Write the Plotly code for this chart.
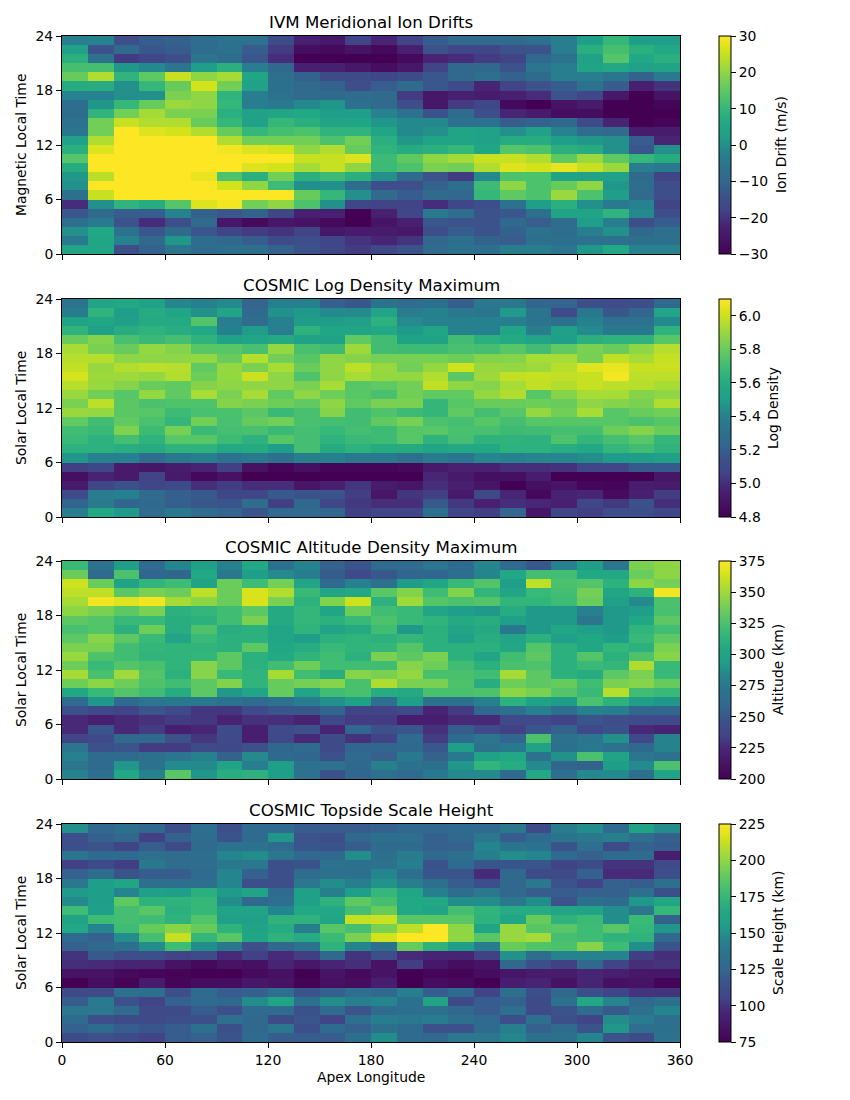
import plotly.graph_objects as go

LONGITUDE_EDGES = list(range(0, 375, 15))
HOUR_EDGES = list(range(0, 25))
LONGITUDE_TICKS = [0, 60, 120, 180, 240, 300, 360]
HOUR_TICKS = [0, 6, 12, 18, 24]

# Every grid below lists its rows from the 23-24 h bin down to the 0-1 h bin,
# with 24 longitude bins per row.
ion_drift = [
    [-3,-2,-15,-12,-11,-8,-6,-6,-16,-23,-25,-18,-22,-18,-12,-9,-9,-9,-7,-3,2,10,2,2],
    [3,-14,-9,-13,-12,-8,-6,-12,-19,-27,-28,-26,-28,-23,-14,-17,-17,-14,-14,-3,8,12,8,6],
    [8,-6,-19,-17,-15,-5,-8,-13,-21,-30,-30,-30,-30,-28,-22,-21,-19,-18,-10,-6,3,14,6,8],
    [12,12,1,-1,-5,2,8,-3,-10,-23,-23,-25,-27,-25,-18,-10,-10,-14,-5,-3,4,6,3,4],
    [16,23,9,15,25,20,22,5,-7,-11,-16,-16,-17,-16,-13,-10,-7,-11,-9,-3,-3,-5,-11,-4],
    [7,7,0,10,16,26,17,3,-7,-9,-11,-15,-12,-9,-13,-16,-22,-18,-14,-12,-6,-12,-23,-20],
    [-2,-2,0,0,18,20,9,-3,-6,-9,-9,-8,-9,-19,-25,-23,-24,-23,-21,-14,-17,-25,-30,-26],
    [-8,1,10,16,21,20,10,-3,-4,-1,1,-7,-9,-15,-25,-19,-17,-28,-30,-26,-24,-30,-30,-29],
    [-8,9,17,22,18,18,8,3,5,6,2,2,-2,-6,-14,-8,-15,-22,-24,-27,-27,-30,-30,-30],
    [-6,17,25,23,23,16,10,3,10,8,4,5,1,-1,-1,-6,-6,-12,-11,-10,-16,-22,-30,-29],
    [-5,17,30,27,26,23,16,10,12,13,9,9,5,-1,0,4,3,0,3,-2,-8,-9,-24,-24],
    [3,23,30,30,30,30,23,17,17,17,13,17,8,1,4,4,3,7,7,2,1,0,-12,-22],
    [8,27,30,30,30,30,29,27,26,20,23,16,9,7,8,10,5,14,13,8,7,0,-13,0],
    [14,30,30,30,30,30,30,30,30,25,25,27,11,15,20,22,25,25,23,15,21,15,10,7],
    [7,30,30,30,30,30,30,27,26,22,25,20,11,13,18,17,23,27,26,28,25,21,-3,-4],
    [1,24,30,30,30,28,13,8,17,8,11,8,0,-9,-14,-19,-1,13,13,4,3,3,-9,-18],
    [0,30,30,30,30,30,26,20,11,0,0,-8,-15,-15,-11,-7,11,20,13,16,20,1,-8,-15],
    [-7,25,30,30,30,30,30,30,30,16,10,0,-9,-12,-9,-10,10,15,13,21,13,2,-9,-15],
    [-21,0,9,7,14,27,29,17,20,13,0,-17,-18,-18,-21,-17,-15,-6,2,8,0,-4,-2,-18],
    [-13,-9,-12,-12,-2,-11,-13,-11,-17,-23,-23,-30,-23,-17,-4,-8,-14,-13,-7,4,4,9,-1,-15],
    [-7,-4,-14,-21,-15,-9,-25,-28,-25,-26,-28,-30,-26,-23,-13,-14,-14,-10,-12,-8,2,-3,-15,-12],
    [0,6,-6,-13,-9,-13,-18,-19,-20,-18,-25,-24,-24,-25,-15,-12,-14,-11,-6,-8,-3,0,-10,-7],
    [-4,5,-2,-10,1,-8,-10,-12,-16,-15,-17,-20,-22,-20,-10,-7,-11,-12,-7,-7,-6,-6,-7,-7],
    [4,5,-15,-11,-5,-8,-7,-7,-11,-14,-17,-19,-17,-14,-9,-6,-7,-3,-3,-5,1,6,-2,-2],
]

log_density = [
    [5.33,5.55,5.58,5.53,5.42,5.40,5.43,5.22,5.40,5.40,5.20,5.17,5.33,5.27,5.30,5.20,5.35,5.35,5.23,5.22,5.13,5.11,5.12,5.25],
    [5.37,5.65,5.50,5.60,5.55,5.45,5.55,5.25,5.45,5.48,5.43,5.43,5.55,5.37,5.40,5.35,5.33,5.48,5.33,5.10,5.35,5.17,5.22,5.55],
    [5.54,5.57,5.52,5.59,5.59,5.75,5.38,5.28,5.40,5.49,5.49,5.51,5.63,5.43,5.40,5.40,5.40,5.38,5.33,5.30,5.40,5.32,5.32,5.43],
    [5.65,5.52,5.61,5.64,5.61,5.58,5.40,5.49,5.38,5.64,5.56,5.55,5.58,5.48,5.55,5.40,5.40,5.56,5.38,5.52,5.43,5.35,5.35,5.64],
    [5.80,5.86,5.72,5.68,5.71,5.64,5.53,5.55,5.59,5.53,5.53,5.78,5.70,5.53,5.53,5.70,5.62,5.59,5.55,5.50,5.62,5.64,5.64,5.76],
    [5.93,5.84,5.80,5.89,5.86,5.76,5.76,5.72,5.89,5.72,5.69,5.91,5.70,5.69,5.69,5.72,5.71,5.76,5.70,5.78,5.84,5.80,5.88,5.96],
    [5.96,5.96,5.88,5.88,5.88,5.89,5.80,5.96,5.82,5.76,5.88,5.86,5.83,5.83,5.83,5.81,5.86,5.86,5.93,5.93,5.83,5.98,5.93,5.99],
    [5.98,5.90,5.95,5.97,5.96,5.78,5.89,5.84,5.93,5.80,5.88,5.97,5.90,5.82,5.89,6.01,5.90,5.89,5.91,5.96,6.04,6.06,5.99,6.00],
    [6.02,5.91,5.91,5.89,5.95,5.81,5.89,6.00,5.88,5.74,5.88,5.93,5.89,5.89,5.95,5.77,5.91,5.98,5.99,5.98,5.99,6.08,5.97,5.97],
    [5.96,5.90,5.86,5.80,5.78,5.86,5.88,5.88,5.88,5.84,5.93,5.76,5.78,5.82,5.98,5.88,5.86,5.93,5.98,5.95,5.99,5.97,5.96,5.93],
    [5.90,5.82,5.76,5.89,5.78,5.93,5.84,5.93,5.78,5.88,5.81,5.76,5.72,5.82,5.78,5.78,5.89,5.95,5.76,5.86,5.93,5.93,5.86,5.88],
    [5.84,5.97,5.77,5.73,5.74,5.74,5.86,5.84,5.81,5.78,5.88,5.78,5.84,5.84,5.66,5.76,5.80,5.80,5.81,5.80,5.88,5.86,5.84,5.95],
    [5.90,5.89,5.77,5.76,5.69,5.72,5.73,5.77,5.68,5.72,5.86,5.70,5.74,5.69,5.66,5.78,5.71,5.76,5.89,5.82,5.93,5.76,5.80,5.82],
    [5.78,5.70,5.78,5.73,5.66,5.82,5.72,5.79,5.82,5.72,5.71,5.70,5.78,5.83,5.73,5.71,5.76,5.71,5.76,5.76,5.76,5.76,5.73,5.76],
    [5.70,5.68,5.85,5.69,5.83,5.68,5.71,5.72,5.68,5.71,5.67,5.71,5.69,5.76,5.76,5.72,5.72,5.69,5.70,5.71,5.71,5.81,5.86,5.80],
    [5.68,5.63,5.71,5.64,5.76,5.76,5.69,5.63,5.76,5.71,5.64,5.68,5.69,5.76,5.64,5.71,5.64,5.64,5.63,5.74,5.66,5.71,5.76,5.66],
    [5.63,5.63,5.61,5.60,5.64,5.64,5.58,5.60,5.50,5.71,5.60,5.63,5.60,5.60,5.55,5.58,5.58,5.63,5.63,5.61,5.58,5.66,5.70,5.64],
    [5.47,5.40,5.40,5.27,5.36,5.39,5.31,5.36,5.30,5.39,5.40,5.35,5.36,5.29,5.37,5.33,5.42,5.40,5.42,5.42,5.44,5.48,5.49,5.52],
    [5.05,5.08,4.92,4.90,4.93,4.97,5.05,4.88,4.82,4.87,4.82,4.82,4.82,4.84,4.92,4.96,4.96,5.00,5.00,5.01,5.08,5.07,5.18,5.18],
    [4.87,4.97,4.92,5.06,4.92,4.84,4.88,4.80,4.80,4.80,4.80,4.80,4.80,4.80,4.98,4.92,4.87,4.87,4.94,4.80,4.80,4.80,4.80,4.90],
    [4.92,5.08,5.14,5.08,5.10,5.00,5.04,5.00,5.00,4.90,4.95,5.02,4.93,4.90,5.00,4.95,4.90,4.80,4.87,4.89,4.83,4.82,4.94,4.92],
    [5.10,5.38,5.40,5.27,5.20,5.18,5.08,5.08,5.18,5.15,5.15,5.04,4.90,5.02,5.05,4.92,5.09,4.98,4.84,4.97,4.98,4.85,4.95,5.04],
    [5.23,5.37,5.23,5.25,5.20,5.17,5.16,5.27,5.05,5.24,5.08,5.03,5.00,5.00,5.18,5.03,4.95,5.00,4.98,4.95,5.08,5.03,5.14,5.00],
    [5.38,5.58,5.48,5.27,5.35,5.27,5.22,5.16,5.25,5.25,5.23,5.05,5.08,5.07,5.30,5.07,5.05,5.22,4.90,5.08,5.05,5.12,5.12,5.08],
]

altitude = [
    [318,270,295,262,283,297,280,305,268,282,255,248,262,262,272,262,283,262,250,280,295,272,340,345],
    [335,262,325,258,258,305,275,295,285,278,252,240,250,258,258,265,283,305,322,322,305,305,335,345],
    [362,335,300,315,320,300,335,320,338,302,262,280,270,293,303,318,328,295,358,325,328,312,345,338],
    [358,358,330,340,335,358,335,365,355,318,300,305,330,342,320,342,315,302,318,322,338,302,312,372],
    [352,372,367,372,352,345,335,365,340,312,342,362,312,350,328,325,328,315,315,320,335,297,285,325],
    [345,340,331,340,311,316,321,331,306,316,303,336,321,318,301,294,291,308,291,291,280,291,294,324],
    [331,328,318,318,309,311,321,340,306,316,311,318,326,318,314,306,309,296,291,291,272,291,304,331],
    [324,328,311,336,309,326,309,311,301,314,299,306,321,291,311,301,306,275,291,304,296,291,314,321],
    [331,343,331,318,301,318,311,311,301,294,311,314,311,316,311,296,309,301,311,296,304,294,318,331],
    [340,340,321,316,314,314,311,331,304,308,318,314,316,328,311,311,311,304,328,311,304,316,311,340],
    [348,326,321,314,314,316,331,311,306,314,321,311,340,331,340,311,301,321,331,311,328,311,326,343],
    [336,318,328,324,314,343,331,311,321,336,321,321,321,343,336,321,311,324,326,311,318,316,354,318],
    [352,324,350,328,311,343,318,314,352,321,309,343,340,347,324,324,321,352,331,311,308,331,340,318],
    [336,345,336,326,321,331,342,314,334,338,343,324,354,340,340,326,309,336,331,334,321,340,343,334],
    [304,318,328,321,308,331,291,301,334,301,321,324,308,306,324,324,326,345,340,328,318,356,321,318],
    [262,290,262,272,275,275,270,262,270,278,288,298,265,295,270,270,280,312,298,293,325,312,295,290],
    [245,238,235,248,240,230,230,240,248,250,258,235,235,240,222,232,260,265,280,265,280,278,258,258],
    [225,220,225,228,232,230,222,228,227,222,238,232,232,218,220,225,225,240,240,235,248,243,240,240],
    [225,248,225,232,220,224,240,220,240,245,222,258,245,248,228,252,240,234,248,255,238,245,225,222],
    [235,240,260,260,245,230,240,220,238,225,242,228,235,262,232,262,272,258,325,270,272,288,238,282],
    [272,245,248,232,232,242,238,245,258,262,240,258,258,260,250,295,270,275,298,268,275,270,260,282],
    [280,262,262,268,272,280,255,285,260,258,245,262,255,275,255,275,298,305,270,288,325,300,272,270],
    [272,262,290,270,285,285,300,278,295,270,270,260,280,270,268,290,315,308,285,258,255,295,285,325],
    [282,265,305,282,330,290,310,312,295,270,245,258,268,262,275,285,285,262,305,265,285,285,268,300],
]

scale_height = [
    [150,125,133,125,113,131,113,128,128,120,120,120,122,125,125,128,128,138,109,141,149,128,159,149],
    [113,122,125,104,122,130,116,128,152,115,113,125,133,131,122,125,138,120,128,136,138,143,131,122],
    [113,115,105,120,109,128,135,135,128,117,115,120,128,128,122,122,146,136,135,116,131,111,122,120],
    [136,128,128,133,130,130,146,149,138,125,125,149,133,141,125,133,143,149,146,128,122,128,128,92],
    [104,109,103,138,130,130,138,138,113,116,135,133,135,143,116,128,117,117,117,106,111,100,100,109],
    [122,130,116,120,120,128,146,122,113,130,133,133,146,133,117,116,97,125,111,109,122,97,97,113],
    [138,155,163,133,133,133,146,113,113,138,149,143,151,143,133,120,113,125,138,115,105,122,120,133],
    [154,155,146,157,155,170,154,160,128,158,143,155,175,163,143,130,138,125,120,120,122,122,133,113],
    [148,155,188,172,172,175,149,125,131,157,172,188,180,165,165,149,149,138,149,115,133,128,152,163],
    [178,157,180,186,170,175,160,160,146,165,165,180,190,165,160,180,173,167,167,162,160,149,138,175],
    [160,178,180,178,172,184,157,157,172,172,163,212,213,186,186,186,172,163,190,172,177,149,177,122],
    [165,146,178,190,198,190,172,160,167,143,186,180,195,210,225,200,163,202,186,186,178,186,175,152],
    [128,122,149,180,212,175,186,163,172,167,177,195,215,225,225,200,186,202,205,180,178,172,172,125],
    [122,125,133,149,178,149,138,113,125,135,172,146,133,190,172,155,141,190,184,182,198,178,149,116],
    [100,118,112,112,105,110,97,104,97,103,125,100,112,97,95,95,104,150,130,145,145,145,103,98],
    [98,97,95,95,85,80,85,84,95,88,95,98,85,103,88,82,85,125,113,104,125,105,98,100],
    [85,85,80,78,77,75,75,80,84,75,86,80,85,75,78,77,82,87,90,90,95,92,88,88],
    [75,82,77,90,78,82,82,88,85,77,84,82,92,75,82,80,75,92,95,85,95,84,85,78],
    [111,109,133,133,113,128,120,122,131,116,122,131,125,143,120,128,105,133,113,125,113,106,100,100],
    [120,140,114,105,122,128,125,149,160,133,149,143,146,133,160,109,120,122,111,133,165,146,125,133],
    [138,138,128,109,109,120,113,128,128,114,128,116,128,133,133,125,120,133,109,116,128,118,133,146],
    [128,113,111,111,113,113,131,125,111,117,105,131,141,138,141,131,128,113,131,113,105,149,141,131],
    [122,128,120,117,120,133,113,125,138,113,128,122,133,128,114,114,128,143,122,128,116,152,131,133],
    [111,113,111,105,120,122,116,128,120,120,120,133,149,128,125,138,138,146,133,133,146,116,111,135],
]

titles = ["IVM Meridional Ion Drifts", "COSMIC Log Density Maximum",
          "COSMIC Altitude Density Maximum", "COSMIC Topside Scale Height"]
y_labels = ["Magnetic Local Time", "Solar Local Time", "Solar Local Time", "Solar Local Time"]
colorbar_labels = ["Ion Drift (m/s)", "Log Density", "Altitude (km)", "Scale Height (km)"]
color_ranges = [(-30, 30), (4.8, 6.1), (200, 375), (75, 225)]
colorbar_ticks = [
    [-30, -20, -10, 0, 10, 20, 30],
    [4.8, 5.0, 5.2, 5.4, 5.6, 5.8, 6.0],
    [200, 225, 250, 275, 300, 325, 350, 375],
    [75, 100, 125, 150, 175, 200, 225],
]
colorbar_formats = ["d", ".1f", "d", "d"]
grids = [ion_drift, log_density, altitude, scale_height]

WIDTH, HEIGHT = 850, 1100
AXIS_LEFT, AXIS_RIGHT = 62, 680
PANEL_TOPS = [36, 299, 561, 824]
PANEL_HEIGHT = 218
BAR_LEFT, BAR_WIDTH = 719, 12
BAR_LABEL_X = [781, 773, 778, 778]
FONT = "DejaVu Sans"
TEXT_SIZE = 13.9

# matplotlib-style viridis stops
VIRIDIS = [
    [0.0, "#440154"], [0.0667, "#471365"], [0.1333, "#482475"], [0.2, "#414487"],
    [0.2667, "#3b528b"], [0.3333, "#31688e"], [0.4, "#2c728e"], [0.4667, "#26828e"],
    [0.5333, "#1f9e89"], [0.6, "#22a884"], [0.6667, "#35b779"], [0.7333, "#54c568"],
    [0.8, "#7ad151"], [0.8667, "#a5db36"], [0.9333, "#d2e21b"], [1.0, "#fde725"],
]

fig = go.Figure()
annotations = []
layout_axes = {}

for i, grid in enumerate(grids):
    suffix = "" if i == 0 else str(i + 1)
    top = PANEL_TOPS[i]
    bottom = top + PANEL_HEIGHT
    zmin, zmax = color_ranges[i]
    fig.add_trace(go.Heatmap(
        x=LONGITUDE_EDGES,
        y=HOUR_EDGES,
        z=grid[::-1],
        xaxis="x" + suffix,
        yaxis="y" + suffix,
        zmin=zmin,
        zmax=zmax,
        colorscale=VIRIDIS,
        colorbar=dict(
            x=BAR_LEFT / WIDTH,
            xanchor="left",
            xpad=0,
            ypad=0,
            y=1 - bottom / HEIGHT,
            yanchor="bottom",
            len=PANEL_HEIGHT,
            lenmode="pixels",
            thickness=BAR_WIDTH,
            thicknessmode="pixels",
            outlinecolor="black",
            outlinewidth=1,
            ticks="outside",
            ticklen=5,
            tickwidth=1,
            tickcolor="black",
            tickvals=colorbar_ticks[i],
            tickformat=colorbar_formats[i],
            tickfont=dict(family=FONT, size=TEXT_SIZE, color="black"),
        ),
    ))
    is_last = i == len(grids) - 1
    layout_axes["xaxis" + suffix] = dict(
        domain=[AXIS_LEFT / WIDTH, AXIS_RIGHT / WIDTH],
        anchor="y" + suffix,
        range=[0, 360],
        tickvals=LONGITUDE_TICKS,
        showticklabels=is_last,
        ticks="outside",
        ticklen=5,
        tickwidth=1,
        tickcolor="black",
        showline=True,
        linecolor="black",
        linewidth=1,
        mirror=True,
        showgrid=False,
        zeroline=False,
        tickfont=dict(family=FONT, size=TEXT_SIZE, color="black"),
    )
    layout_axes["yaxis" + suffix] = dict(
        domain=[1 - bottom / HEIGHT, 1 - top / HEIGHT],
        anchor="x" + suffix,
        range=[0, 24],
        tickvals=HOUR_TICKS,
        ticks="outside",
        ticklen=5,
        tickwidth=1,
        tickcolor="black",
        showline=True,
        linecolor="black",
        linewidth=1,
        mirror=True,
        showgrid=False,
        zeroline=False,
        tickfont=dict(family=FONT, size=TEXT_SIZE, color="black"),
    )
    # Panel title above the frame
    annotations.append(dict(
        text=titles[i], x=(AXIS_LEFT + AXIS_RIGHT) / 2 / WIDTH, xref="paper", xanchor="center",
        y=1 - (top - 2) / HEIGHT, yref="paper", yanchor="bottom", showarrow=False,
        font=dict(family=FONT, size=16.67, color="black"),
    ))
    # Rotated y-axis label
    annotations.append(dict(
        text=y_labels[i], x=21 / WIDTH, xref="paper", xanchor="center",
        y=1 - (top + PANEL_HEIGHT / 2) / HEIGHT, yref="paper", yanchor="middle",
        textangle=-90, showarrow=False,
        font=dict(family=FONT, size=TEXT_SIZE, color="black"),
    ))
    # Rotated colorbar label
    annotations.append(dict(
        text=colorbar_labels[i], x=BAR_LABEL_X[i] / WIDTH, xref="paper", xanchor="center",
        y=1 - (top + PANEL_HEIGHT / 2) / HEIGHT, yref="paper", yanchor="middle",
        textangle=-90, showarrow=False,
        font=dict(family=FONT, size=TEXT_SIZE, color="black"),
    ))

annotations.append(dict(
    text="Apex Longitude", x=(AXIS_LEFT + AXIS_RIGHT) / 2 / WIDTH, xref="paper", xanchor="center",
    y=1 - 1077 / HEIGHT, yref="paper", yanchor="middle", showarrow=False,
    font=dict(family=FONT, size=TEXT_SIZE, color="black"),
))

fig.update_layout(
    width=WIDTH,
    height=HEIGHT,
    autosize=False,
    margin=dict(l=0, r=0, t=0, b=0, autoexpand=False),
    paper_bgcolor="white",
    plot_bgcolor="white",
    showlegend=False,
    annotations=annotations,
    font=dict(family=FONT, size=TEXT_SIZE, color="black"),
    **layout_axes,
)

fig.write_html("out.html")
